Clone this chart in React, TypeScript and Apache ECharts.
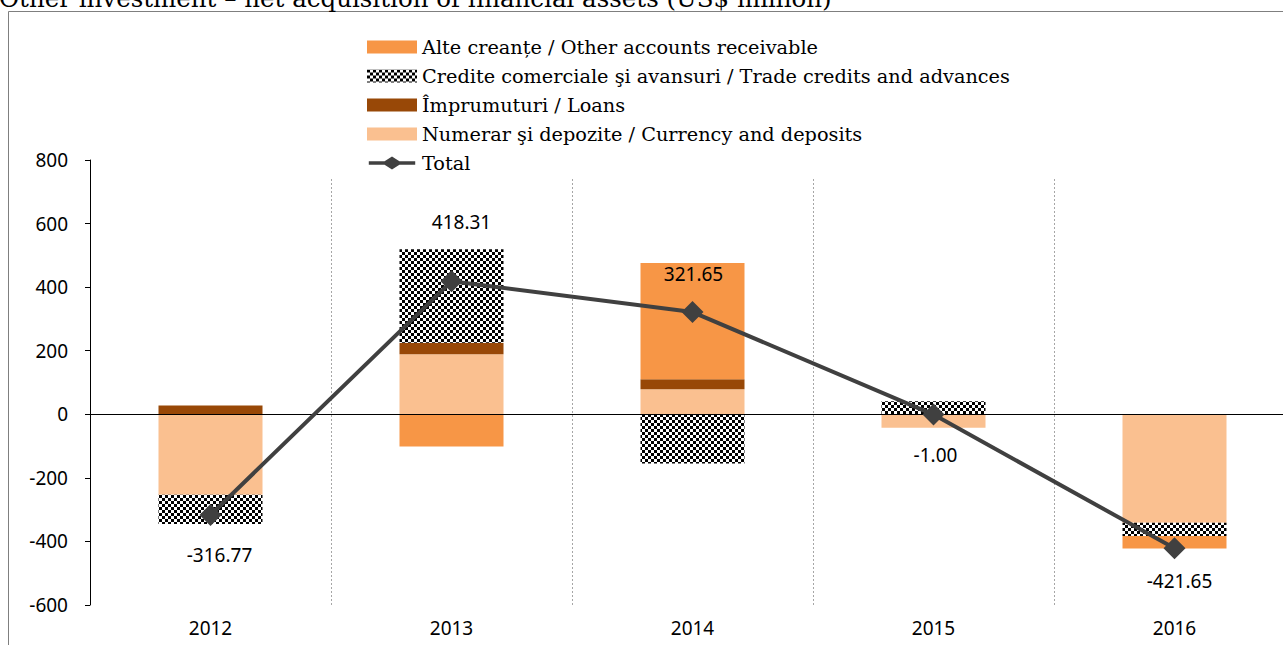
import React, { useEffect, useRef } from 'react';
import * as echarts from 'echarts';

const titleText = 'Other investment – net acquisition of financial assets (US$ million)';
const categories = ['2012', '2013', '2014', '2015', '2016'];

const nameOther = 'Alte creanțe / Other accounts receivable';
const nameTrade = 'Credite comerciale şi avansuri / Trade credits and advances';
const nameLoans = 'Împrumuturi / Loans';
const nameCurrency = 'Numerar şi depozite / Currency and deposits';
const nameTotal = 'Total';

const currency = [-253, 189, 79, -42, -341];
const loans = [28, 36, 31, 0, 0];
const trade = [-92, 294, -155, 41, -42];
const other = [0, -101, 366, 0, -39];
const total = [-316.77, 418.31, 321.65, -1.0, -421.65];

const yMin = -600;
const yMax = 800;
const yInterval = 200;

// label placement for the Total labels (style, not data)
const labelPos = ['bottom', 'top', 'top', 'bottom', 'bottom'];
const labelDist = [20, 39, 18, 20, 12];
const labelDx = [9, 10, 1, 2, 5];

const totalIcon =
  'path://M0,5 L17,5 L25,0 L33,5 L50,5 L50,9 L33,9 L25,14 L17,9 L0,9 Z';

export default function App() {
  const ref = useRef<HTMLDivElement>(null);
  useEffect(() => {
    const chart = echarts.init(ref.current!, null, { renderer: 'svg' });
    const cv = document.createElement('canvas');
    cv.width = 6;
    cv.height = 6;
    const ctx = cv.getContext('2d')!;
    ctx.fillStyle = '#ffffff';
    ctx.fillRect(0, 0, 6, 6);
    ctx.fillStyle = '#000000';
    ctx.fillRect(0, 0, 3, 3);
    ctx.fillRect(3, 3, 3, 3);
    const checker: any = { image: cv, repeat: 'repeat' };

    const sans = 'Noto Sans';
    const serif = 'DejaVu Serif';

    const barBase = {
      type: 'bar',
      stack: 'total',
      barWidth: 104,
      xAxisIndex: 0,
      yAxisIndex: 0,
    };

    chart.setOption({
      animation: false,
      backgroundColor: '#ffffff',
      graphic: [
        {
          type: 'rect',
          shape: { x: 8.5, y: 11.5, width: 1400, height: 800 },
          style: { fill: 'none', stroke: '#7f7f7f', lineWidth: 1 },
          silent: true,
          z: -10,
        },
        {
          type: 'text',
          x: -1,
          y: 11,
          style: {
            text: titleText,
            font: `24.5px "${serif}"`,
            fill: '#000000',
            verticalAlign: 'bottom',
          },
          silent: true,
        },
      ],
      legend: {
        orient: 'vertical',
        left: 362,
        top: 32,
        itemWidth: 50,
        itemHeight: 13,
        itemGap: 9,
        textStyle: { fontFamily: serif, fontSize: 19.3, color: '#000', lineHeight: 20 },
        data: [
          { name: nameOther, icon: 'rect' },
          { name: nameTrade, icon: 'rect' },
          { name: nameLoans, icon: 'rect' },
          { name: nameCurrency, icon: 'rect' },
          { name: nameTotal, icon: totalIcon },
        ],
      },
      grid: [
        { left: 90, right: 5, top: 160, bottom: 40 },
        { left: 90, right: 5, top: 179, bottom: 40 },
      ],
      xAxis: [
        {
          type: 'category',
          gridIndex: 0,
          data: categories,
          axisLine: { show: false },
          axisTick: { show: false },
          axisLabel: { margin: 13, fontFamily: sans, fontSize: 19, color: '#000' },
          splitLine: { show: false },
        },
        {
          type: 'value',
          gridIndex: 1,
          min: 0,
          max: categories.length,
          interval: 1,
          axisLine: { show: false },
          axisTick: { show: false },
          axisLabel: { show: false },
          splitLine: { show: true, lineStyle: { color: '#a6a6a6', type: [2, 2], width: 1 } },
        },
      ],
      yAxis: [
        {
          type: 'value',
          gridIndex: 0,
          min: yMin,
          max: yMax,
          interval: yInterval,
          axisLine: { show: true, lineStyle: { color: '#000', width: 1 } },
          axisTick: { show: true, length: 5, lineStyle: { color: '#000' } },
          axisLabel: { margin: 22, fontFamily: sans, fontSize: 19, color: '#000' },
          splitLine: { show: false },
        },
        { type: 'value', gridIndex: 1, show: false, min: 0, max: 1 },
      ],
      series: [
        { ...barBase, name: nameCurrency, data: currency, itemStyle: { color: '#FAC090' } },
        { ...barBase, name: nameLoans, data: loans, itemStyle: { color: '#984807' } },
        { ...barBase, name: nameTrade, data: trade, itemStyle: { color: checker } },
        {
          ...barBase,
          name: nameOther,
          data: other,
          itemStyle: { color: '#F79646' },
          markLine: {
            silent: true,
            symbol: ['none', 'none'],
            label: { show: false },
            lineStyle: { color: '#000', width: 1, type: 'solid' },
            data: [{ yAxis: 0 }],
          },
        },
        {
          type: 'line',
          name: nameTotal,
          xAxisIndex: 0,
          yAxisIndex: 0,
          z: 5,
          data: total.map((v, i) => ({
            value: v,
            label: { position: labelPos[i], distance: labelDist[i], offset: [labelDx[i], 0] },
          })),
          symbol: 'diamond',
          symbolSize: 22,
          itemStyle: { color: '#404040' },
          lineStyle: { color: '#404040', width: 4 },
          label: {
            show: true,
            fontFamily: sans,
            fontSize: 19,
            color: '#000',
            formatter: (p: any) => Number(p.value).toFixed(2),
          },
        },
      ],
    });
    return () => chart.dispose();
  }, []);
  return (
    <div
      style={{
        position: 'fixed',
        left: 0,
        top: 0,
        width: 1283,
        height: 645,
        overflow: 'hidden',
      }}
    >
      <div ref={ref} style={{ width: 1300, height: 645 }} />
    </div>
  );
}
